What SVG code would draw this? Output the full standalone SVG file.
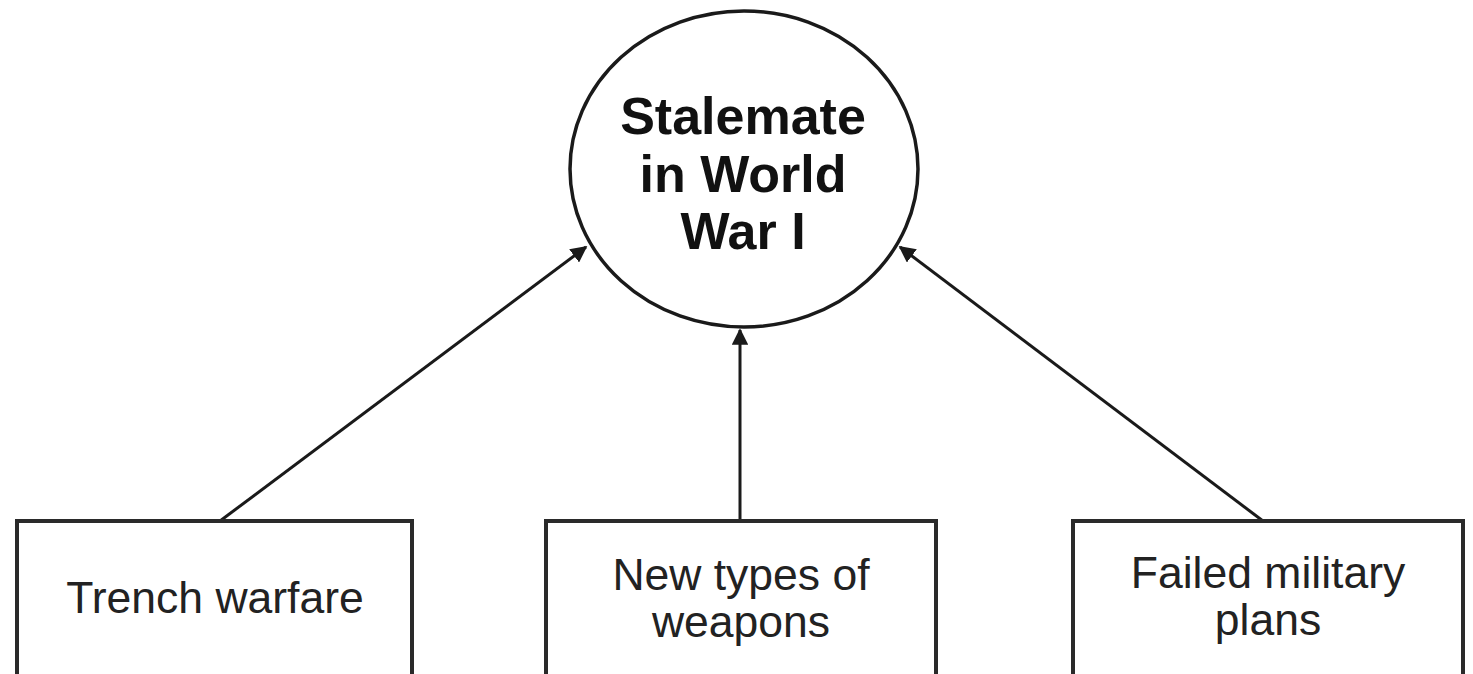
<svg xmlns="http://www.w3.org/2000/svg" width="1473" height="674" viewBox="0 0 1473 674">
<style>
.box{fill:#fff;stroke:#2a2a2a;stroke-width:4}
.t{font-family:"Liberation Sans",Arial,sans-serif;font-size:44.5px;fill:#222;text-anchor:middle}
.h{font-family:"Liberation Sans",Arial,sans-serif;font-size:52px;font-weight:bold;fill:#111;text-anchor:middle}
.c{stroke:#1a1a1a;stroke-width:3;fill:none;marker-end:url(#ah)}
</style>
<defs>
<marker id="ah" viewBox="0 0 10 10" refX="9" refY="5" markerWidth="5.5" markerHeight="5.5" orient="auto" markerUnits="strokeWidth">
<path d="M0,0 L10,5 L0,10 z" fill="#1a1a1a"/>
</marker>
</defs>
<rect width="1473" height="674" fill="#fff"/>
<g id="connectors">
<line class="c" x1="220" y1="521" x2="586" y2="247"/>
<line class="c" x1="740" y1="521" x2="740" y2="330"/>
<line class="c" x1="1263" y1="521" x2="900" y2="247"/>
</g>
<g id="stalemate">
<ellipse cx="744" cy="169" rx="174" ry="158" fill="#fff" stroke="#1a1a1a" stroke-width="3.5"/>
<text class="h" x="743" y="134">Stalemate</text>
<text class="h" x="743" y="192">in World</text>
<text class="h" x="743" y="249">War I</text>
</g>
<g id="trench">
<rect class="box" x="17" y="521" width="395" height="170"/>
<text class="t" x="215" y="613">Trench warfare</text>
</g>
<g id="weapons">
<rect class="box" x="546" y="521" width="390" height="170"/>
<text class="t" x="741" y="590">New types of</text>
<text class="t" x="741" y="637">weapons</text>
</g>
<g id="plans">
<rect class="box" x="1073" y="521" width="390" height="170"/>
<text class="t" x="1268" y="588">Failed military</text>
<text class="t" x="1268" y="635">plans</text>
</g>
</svg>
